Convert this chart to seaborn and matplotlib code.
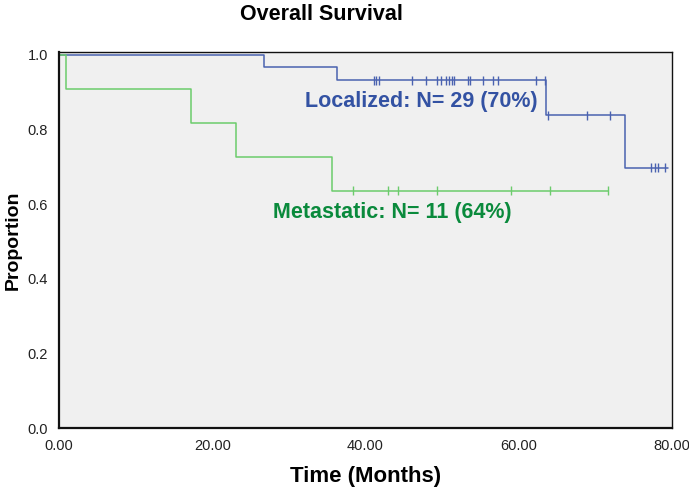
import pandas as pd
import seaborn as sns
import matplotlib.pyplot as plt

# Kaplan-Meier step points
LOC_TIMES = [0.0, 26.8, 36.3, 63.6, 73.9, 79.5]
LOC_SURV = [1.0, 0.966, 0.931, 0.838, 0.698, 0.698]
MET_TIMES = [0.0, 0.9, 17.2, 23.1, 35.6, 71.7]
MET_SURV = [1.0, 0.909, 0.818, 0.727, 0.636, 0.636]

# censored cases
LOC_CENS_TIMES = [41.1, 41.4, 41.8, 46.1, 47.9, 49.3, 49.9, 50.5, 50.9, 51.3,
                  51.6, 53.4, 53.7, 55.4, 56.7, 57.3, 62.3, 63.4,
                  63.8, 68.9, 71.9,
                  77.3, 77.8, 78.2, 79.1]
LOC_CENS_SURV = [0.931] * 18 + [0.838] * 3 + [0.698] * 4
MET_CENS_TIMES = [38.4, 43.0, 44.3, 49.3, 59.0, 64.1, 71.7]
MET_CENS_SURV = [0.636] * 7

GROUPS = ["Localized", "Metastatic"]
LINE_COLORS = {"Localized": "#4a62b0", "Metastatic": "#6ccc6c"}
TEXT_COLORS = {"Localized": "#3352a3", "Metastatic": "#0a8a3c"}

sns.set_style("white")
plt.rcParams["font.family"] = ["Liberation Sans", "DejaVu Sans"]
plt.rcParams["text.color"] = "black"
plt.rcParams["axes.labelcolor"] = "black"

curves = pd.concat([
    pd.DataFrame({"time": LOC_TIMES, "surv": LOC_SURV, "group": GROUPS[0]}),
    pd.DataFrame({"time": MET_TIMES, "surv": MET_SURV, "group": GROUPS[1]}),
])
censored = pd.concat([
    pd.DataFrame({"time": LOC_CENS_TIMES, "surv": LOC_CENS_SURV, "group": GROUPS[0]}),
    pd.DataFrame({"time": MET_CENS_TIMES, "surv": MET_CENS_SURV, "group": GROUPS[1]}),
])

fig = plt.figure(figsize=(6.89, 4.92), dpi=100)
ax = fig.add_axes([0.0856, 0.1295, 0.8897, 0.7654])
ax.set_facecolor("#f0f0f0")

sns.lineplot(data=curves, x="time", y="surv", hue="group", palette=LINE_COLORS,
             estimator=None, sort=False, drawstyle="steps-post", linewidth=1.1,
             legend=False, ax=ax)
sns.scatterplot(data=censored, x="time", y="surv", hue="group", palette=LINE_COLORS,
                marker="|", s=45, linewidth=1.0, legend=False, ax=ax)

ax.set_xlim(0, 80)
ax.set_ylim(0, 1.008)
ax.set_xticks([0, 20, 40, 60, 80])
ax.set_xticklabels(["0.00", "20.00", "40.00", "60.00", "80.00"])
ax.set_yticks([0, 0.2, 0.4, 0.6, 0.8, 1.0])
ax.set_yticklabels(["0.0", "0.2", "0.4", "0.6", "0.8", "1.0"])
ax.tick_params(axis="both", direction="out", length=6, width=1, color="#222222",
               labelsize=10.5, labelcolor="#222222", pad=2)
for spine in ax.spines.values():
    spine.set_color("#111111")
    spine.set_linewidth(1.0)
ax.spines["left"].set_linewidth(1.6)
ax.spines["bottom"].set_linewidth(1.6)

ax.set_xlabel("Time (Months)", fontsize=16, fontweight="bold", labelpad=9)
ax.set_ylabel("Proportion", fontsize=14, fontweight="bold", labelpad=4)

ax.text(32.1, 0.875, "Localized: N= 29 (70%)", color=TEXT_COLORS["Localized"],
        fontsize=15.5, fontweight="bold", va="center", ha="left")
ax.text(27.9, 0.578, "Metastatic: N= 11 (64%)", color=TEXT_COLORS["Metastatic"],
        fontsize=15.5, fontweight="bold", va="center", ha="left")

fig.text(321 / 689, 1 - 15 / 492, "Overall Survival", fontsize=15.5,
         fontweight="bold", ha="center", va="center")

fig.savefig("out.png", dpi=100)
